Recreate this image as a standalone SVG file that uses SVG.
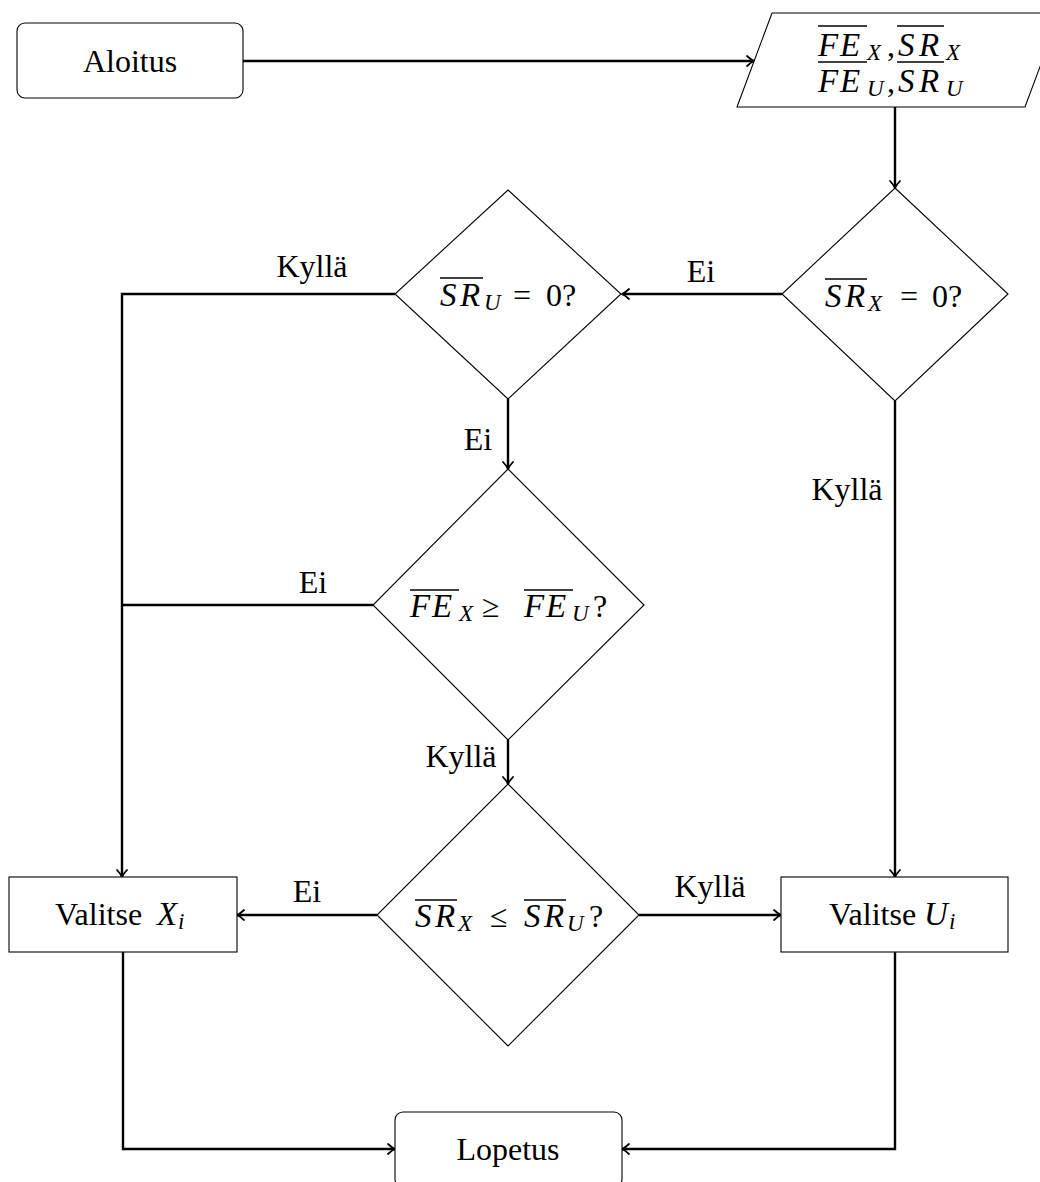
<svg xmlns="http://www.w3.org/2000/svg" width="1040" height="1182" viewBox="0 0 1040 1182">
<style>
  .node { fill: #ffffff; stroke: #000000; stroke-width: 1.1; }
  .conn { fill: none; stroke: #000000; stroke-width: 2.4; }
  .txt { font-family: 'Liberation Serif', 'Times New Roman', serif; font-size: 32px; fill: #000000; }
  .it { font-style: italic; font-size: 33px; }
  .sub { font-style: italic; font-size: 23px; }
  .ovl { stroke: #000000; stroke-width: 1.4; }
</style>
<defs>
  <marker id="arr" markerUnits="userSpaceOnUse" markerWidth="14" markerHeight="14" viewBox="-10 -7 12 14" refX="0" refY="0" orient="auto">
    <path d="M-7,-5 Q-3,-1.2 0,0 Q-3,1.2 -7,5" fill="none" stroke="#000000" stroke-width="1.8" stroke-linecap="round"/>
  </marker>
</defs>
<rect width="1040" height="1182" fill="#ffffff"/>

<g id="connectors">
  <path class="conn" d="M243,61 H754" marker-end="url(#arr)"/>
  <path class="conn" d="M895,107 V188" marker-end="url(#arr)"/>
  <path class="conn" d="M782,294 H622" marker-end="url(#arr)"/>
  <path class="conn" d="M395,294 H122 V877" marker-end="url(#arr)"/>
  <path class="conn" d="M508,399 V469" marker-end="url(#arr)"/>
  <path class="conn" d="M373,605 H122"/>
  <path class="conn" d="M508,740 V784" marker-end="url(#arr)"/>
  <path class="conn" d="M895,401 V877" marker-end="url(#arr)"/>
  <path class="conn" d="M377,915 H237" marker-end="url(#arr)"/>
  <path class="conn" d="M639,915 H781" marker-end="url(#arr)"/>
  <path class="conn" d="M123,952 V1149 H395" marker-end="url(#arr)"/>
  <path class="conn" d="M895,952 V1149 H622" marker-end="url(#arr)"/>
  <g class="txt" text-anchor="middle">
    <text x="312" y="277">Kyllä</text>
    <text x="701" y="282">Ei</text>
    <text x="478" y="450">Ei</text>
    <text x="847" y="500">Kyllä</text>
    <text x="313" y="593">Ei</text>
    <text x="461" y="767">Kyllä</text>
    <text x="307" y="902">Ei</text>
    <text x="710" y="897">Kyllä</text>
  </g>
</g>

<g id="start">
  <rect class="node" x="17" y="23" width="226" height="75" rx="8"/>
  <text class="txt" x="130" y="72" text-anchor="middle">Aloitus</text>
</g>

<g id="input">
  <polygon class="node" points="772,13 1060,13 1025,107 737,107"/>
  <text class="txt"><tspan class="it" x="818 840" y="56">FE</tspan><tspan class="sub" x="867" y="60">X</tspan><tspan x="887" y="56">,</tspan><tspan class="it" x="898 919" y="56">SR</tspan><tspan class="sub" x="946" y="60">X</tspan></text>
  <line class="ovl" x1="818" y1="26" x2="867" y2="26"/>
  <line class="ovl" x1="897" y1="26" x2="944" y2="26"/>
  <text class="txt"><tspan class="it" x="818 840" y="92">FE</tspan><tspan class="sub" x="867" y="96">U</tspan><tspan x="887" y="92">,</tspan><tspan class="it" x="898 919" y="92">SR</tspan><tspan class="sub" x="946" y="96">U</tspan></text>
  <line class="ovl" x1="818" y1="62" x2="867" y2="62"/>
  <line class="ovl" x1="897" y1="62" x2="944" y2="62"/>
</g>

<g id="dec_srx">
  <polygon class="node" points="895,188 1008,294 895,401 782,294"/>
  <text class="txt"><tspan class="it" x="825 845" y="307">SR</tspan><tspan class="sub" x="868" y="311">X</tspan><tspan x="900" y="307">=</tspan><tspan x="932" y="307">0</tspan><tspan x="948" y="307">?</tspan></text>
  <line class="ovl" x1="825" y1="279" x2="867" y2="279"/>
</g>

<g id="dec_sru">
  <polygon class="node" points="508,190 621,294 508,399 395,294"/>
  <text class="txt"><tspan class="it" x="440 460" y="306">SR</tspan><tspan class="sub" x="484" y="310">U</tspan><tspan x="513" y="306">=</tspan><tspan x="546" y="306">0</tspan><tspan x="562" y="306">?</tspan></text>
  <line class="ovl" x1="440" y1="278" x2="483" y2="278"/>
</g>

<g id="dec_fe">
  <polygon class="node" points="508,469 644,605 508,740 373,605"/>
  <text class="txt"><tspan class="it" x="410 432" y="617">FE</tspan><tspan class="sub" x="459" y="621">X</tspan><tspan x="482" y="617">≥</tspan><tspan class="it" x="524 546" y="617">FE</tspan><tspan class="sub" x="572" y="621">U</tspan><tspan x="593" y="617">?</tspan></text>
  <line class="ovl" x1="410" y1="590" x2="459" y2="590"/>
  <line class="ovl" x1="524" y1="590" x2="573" y2="590"/>
</g>

<g id="dec_sr">
  <polygon class="node" points="508,784 639,915 508,1046 377,915"/>
  <text class="txt"><tspan class="it" x="415 435" y="927">SR</tspan><tspan class="sub" x="458" y="931">X</tspan><tspan x="490" y="927">≤</tspan><tspan class="it" x="524 544" y="927">SR</tspan><tspan class="sub" x="567" y="931">U</tspan><tspan x="589" y="927">?</tspan></text>
  <line class="ovl" x1="415" y1="900" x2="457" y2="900"/>
  <line class="ovl" x1="524" y1="900" x2="566" y2="900"/>
</g>

<g id="select_x">
  <rect class="node" x="9" y="877" width="228" height="75"/>
  <text class="txt"><tspan x="55" y="925">Valitse</tspan><tspan class="it" x="157" y="925">X</tspan><tspan class="sub" x="178" y="929">i</tspan></text>
</g>

<g id="select_u">
  <rect class="node" x="781" y="877" width="227" height="75"/>
  <text class="txt"><tspan x="829" y="925">Valitse</tspan><tspan class="it" x="924" y="925">U</tspan><tspan class="sub" x="949" y="929">i</tspan></text>
</g>

<g id="end">
  <rect class="node" x="395" y="1112" width="227" height="75" rx="8"/>
  <text class="txt" x="508" y="1160" text-anchor="middle">Lopetus</text>
</g>
</svg>
